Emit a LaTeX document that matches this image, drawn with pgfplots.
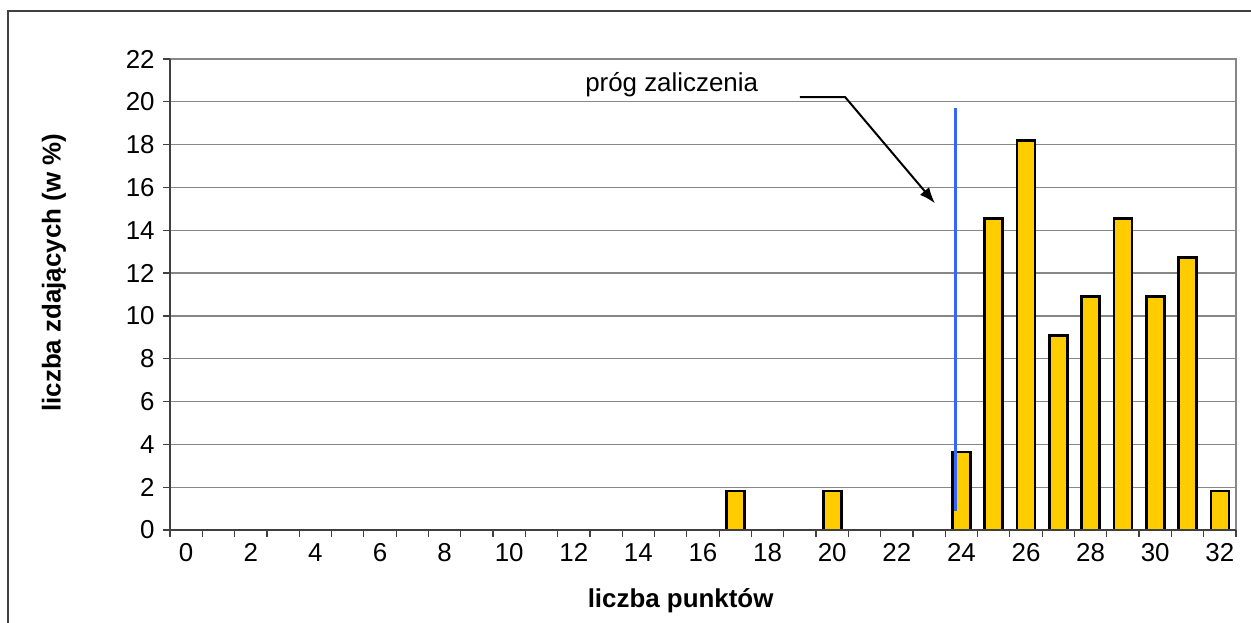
\documentclass[border=0pt]{standalone}
\usepackage{fontspec}
\setmainfont{Liberation Sans}
\usepackage{pgfplots}
\pgfplotsset{compat=1.18}
\usepackage{pgfplotstable}
\usetikzlibrary{arrows.meta}

\definecolor{bargold}{HTML}{FFCC00}
\definecolor{threshblue}{HTML}{3366FF}
\definecolor{gridgray}{HTML}{878787}
\definecolor{axisdark}{HTML}{404040}

% odsetek zdajacych dla danej liczby punktow (N = 55)
\pgfplotstableread{
pts pct
17 1.82
20 1.82
24 3.64
25 14.55
26 18.18
27 9.09
28 10.91
29 14.55
30 10.91
31 12.73
32 1.82
}\wyniki

\begin{document}
\begin{tikzpicture}[font=\fontsize{13}{15}\selectfont]
\path[use as bounding box] (-85bp,-46.5bp) rectangle (540.5bp,265bp);
\draw[color=axisdark, line width=0.8bp] (-81bp,-80bp) -- (-81bp,259.5bp) -- (600bp,259.5bp);
\begin{axis}[
    scale only axis,
    width=533bp, height=235.5bp,
    at={(0,0)}, anchor=south west,
    xmin=-0.5, xmax=32.5,
    ymin=0, ymax=22,
    ytick={0,2,...,22},
    xtick={-0.5,0.5,...,32.5},
    xticklabels={},
    extra x ticks={0,2,...,32},
    extra x tick labels={0,2,4,6,8,10,12,14,16,18,20,22,24,26,28,30,32},
    extra x tick style={tick style={draw=none}},
    xtick pos=bottom, ytick pos=left,
    ymajorgrids,
    grid style={color=gridgray, line width=0.6bp},
    tick align=outside,
    major tick length=3.5bp,
    tick style={color=axisdark, line width=0.6bp},
    axis line style={draw=none},
    /pgf/number format/assume math mode=true,
    yticklabel style={anchor=east, inner sep=0pt, xshift=-4bp},
    xticklabel style={anchor=north, inner sep=0pt, yshift=-3bp},
    xlabel={\bfseries liczba punktów},
    ylabel={\bfseries liczba zdających (w \%)},
    xlabel style={at={(axis description cs:0.479,-0.151)}, anchor=center},
    ylabel style={at={(axis description cs:-0.109,0.546)}, anchor=center, rotate=0},
    clip=false,
]
\addplot[ybar, bar width=0.557, fill=bargold, draw=black, line width=1.3bp]
    table[x=pts, y=pct] {\wyniki};
% prog zaliczenia
\addplot[color=threshblue, line width=1.5bp, mark=none]
    coordinates {(23.83,0.9) (23.83,19.73)};
\addplot[color=black, line width=1bp, mark=none, -{Latex[length=8bp,width=6bp]}]
    coordinates {(19.0,20.22) (20.4,20.22) (23.18,15.26)};
\node[anchor=base] at (axis cs:15.03,20.46) {próg zaliczenia};
% ramka obszaru wykresu
\draw[color=gridgray, line width=1bp] (rel axis cs:0,1) -- (rel axis cs:1,1) -- (rel axis cs:1,0);
\draw[color=axisdark, line width=1bp] (rel axis cs:0,1) -- (rel axis cs:0,0) -- (rel axis cs:1,0);
\end{axis}
\end{tikzpicture}
\end{document}
